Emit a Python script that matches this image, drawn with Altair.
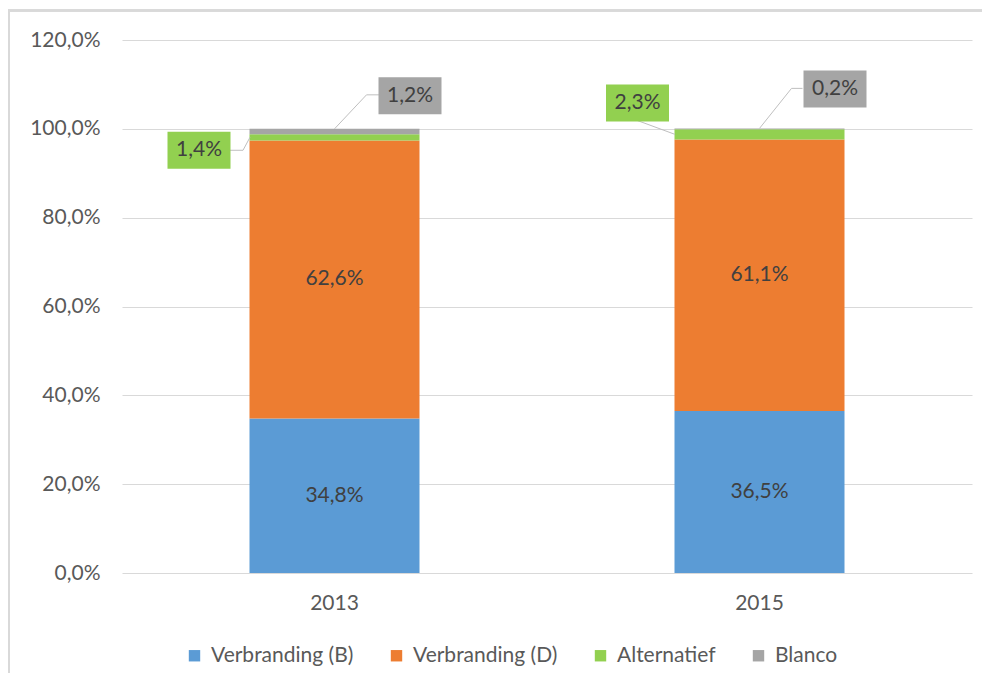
import altair as alt
import pandas as pd

years = ["2013", "2015"]
series = ["Verbranding (B)", "Verbranding (D)", "Alternatief", "Blanco"]
values_2013 = [34.8, 62.6, 1.4, 1.2]
values_2015 = [36.5, 61.1, 2.3, 0.2]
colors = ["#5B9BD5", "#ED7D31", "#92D050", "#A5A5A5"]
y_ticks = [0, 20, 40, 60, 80, 100, 120]

FONT = "Lato"
FS = 21
TXT = "#595959"
LBL = "#404040"
W, H = 850, 533

rows = []
for year, vals in zip(years, [values_2013, values_2015]):
    base = 0.0
    for i, (s, v) in enumerate(zip(series, vals)):
        rows.append(dict(year=year, series=s, idx=i, value=v, y0=base, y1=base + v,
                         mid=base + v / 2,
                         label=f"{v:.1f}".replace(".", ",") + "%"))
        base += v
df = pd.DataFrame(rows)

xscale = alt.Scale(domain=years, paddingInner=0.6, paddingOuter=0.3)
yscale = alt.Scale(domain=[0, 120], nice=False)

x = alt.X("year:N", scale=xscale, title=None,
          axis=alt.Axis(labelAngle=0, labelFontSize=FS, labelColor=TXT, labelFont=FONT,
                        labelPadding=19, ticks=False, domain=False))

bars = alt.Chart(df).mark_bar().encode(
    x=x,
    y=alt.Y("y1:Q", scale=yscale, title=None,
            axis=alt.Axis(values=y_ticks,
                          labelExpr="replace(format(datum.value, '.1f'), '.', ',') + '%'",
                          labelFontSize=FS, labelColor=TXT, labelFont=FONT, labelPadding=22,
                          ticks=False, domain=False, gridColor="#D9D9D9", gridWidth=1)),
    y2="y0:Q",
    color=alt.Color("series:N", scale=alt.Scale(domain=series, range=colors),
                    legend=alt.Legend(orient="none", legendX=62, legendY=605,
                                      direction="horizontal", title=None,
                                      symbolType="square", symbolSize=130,
                                      symbolStrokeWidth=0,
                                      labelFontSize=FS, labelColor=TXT, labelFont=FONT,
                                      labelOffset=6, columnPadding=32, padding=0)),
)

inner = alt.Chart(df).transform_filter("datum.idx < 2").mark_text(
    fontSize=FS, color=LBL, font=FONT).encode(
    x=alt.X("year:N", scale=xscale), y=alt.Y("mid:Q", scale=yscale), text="label:N")

# callouts: (year, series, anchor field, leader points, box centre, fill)
callouts = [
    ("2013", "Blanco", "y1", [(0, 0), (32, -34), (45, -34)], (75.5, -33), "#A5A5A5"),
    ("2013", "Alternatief", "mid", [(-84.5, 0), (-91.5, 13), (-104.5, 13)], (-135.5, 13), "#92D050"),
    ("2015", "Alternatief", "mid", [(-84.5, 0), (-122.5, -14)], (-122, -31.5), "#92D050"),
    ("2015", "Blanco", "y1", [(0, 0), (32, -40), (43, -40)], (75.5, -39.5), "#A5A5A5"),
]
BOX_W, BOX_H = 63, 37
r = BOX_H / BOX_W
box_path = f"M-1,-{r:.4f}H1V{r:.4f}H-1Z"

layers = [bars, inner]
for year, s, anchor, pts, (bx, by), fill in callouts:
    base = alt.Chart(df).transform_filter(
        f"datum.year == '{year}' && datum.series == '{s}'")
    for (x1, y1), (x2, y2) in zip(pts[:-1], pts[1:]):
        layers.append(base.mark_rule(color="#BFBFBF", strokeWidth=1,
                                     xOffset=x1, x2Offset=x2, yOffset=y1, y2Offset=y2).encode(
            x=alt.X("year:N", scale=xscale), x2="year:N",
            y=alt.Y(f"{anchor}:Q", scale=yscale), y2=f"{anchor}:Q"))
    layers.append(base.mark_point(shape=box_path, size=BOX_W ** 2, filled=True, fill=fill,
                                  opacity=1, strokeWidth=0, xOffset=bx, yOffset=by).encode(
        x=alt.X("year:N", scale=xscale), y=alt.Y(f"{anchor}:Q", scale=yscale)))
    layers.append(base.mark_text(fontSize=FS, color=LBL, font=FONT, dx=bx, dy=by).encode(
        x=alt.X("year:N", scale=xscale), y=alt.Y(f"{anchor}:Q", scale=yscale),
        text="label:N"))

border_l = alt.Chart(df).mark_rule(color="#D9D9D9", strokeWidth=2).encode(
    x=alt.value(-113), y=alt.value(-29.5), y2=alt.value(700))
border_t = alt.Chart(df).mark_rule(color="#D9D9D9", strokeWidth=2).encode(
    x=alt.value(-114), x2=alt.value(900), y=alt.value(-29.5))
layers += [border_l, border_t]

chart = alt.layer(*layers).properties(
    width=W, height=H,
    autosize=alt.AutoSizeParams(type="none"),
    padding={"left": 114, "top": 32, "right": 10, "bottom": 100},
).configure_view(strokeWidth=0)

chart.save("out.html", embed_options={"renderer": "svg", "actions": False})
